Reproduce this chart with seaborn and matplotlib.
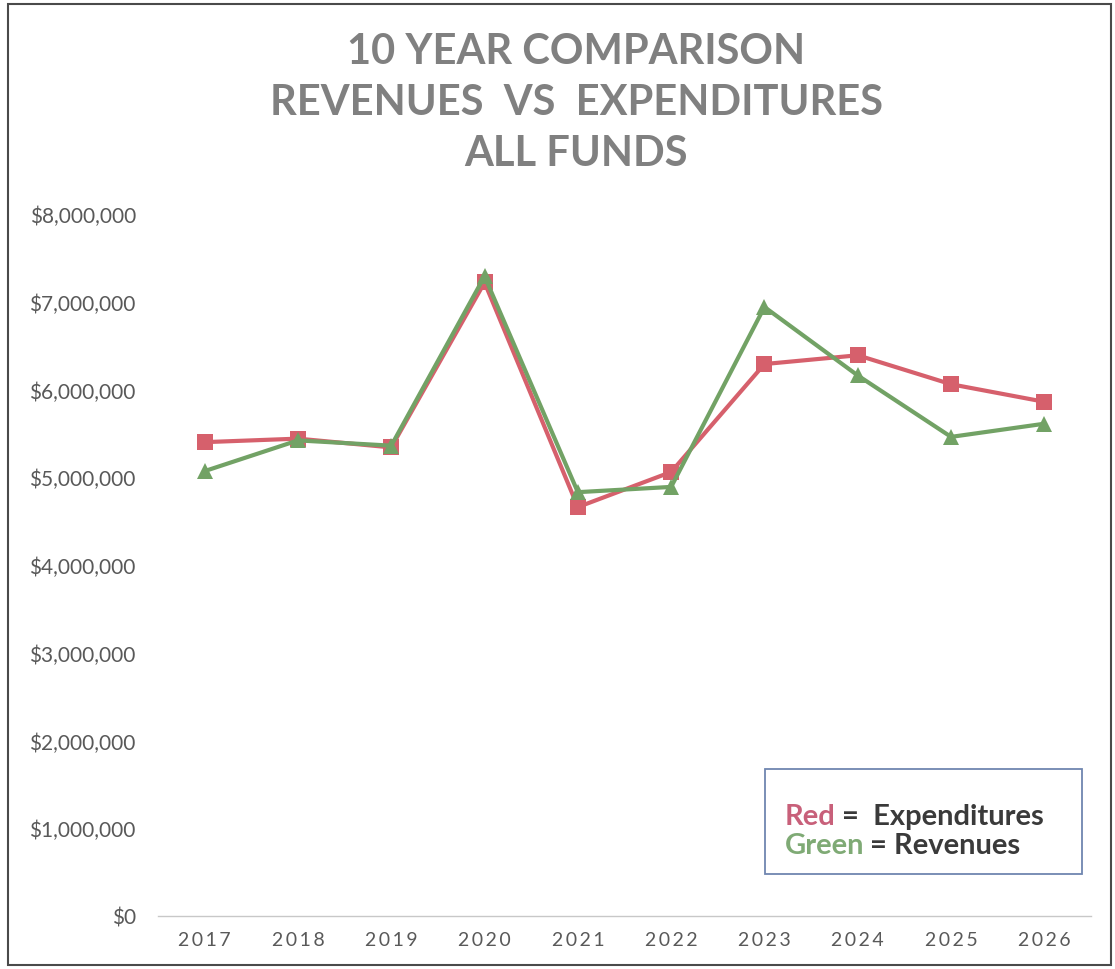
import matplotlib
matplotlib.use("Agg")
import matplotlib.pyplot as plt
from matplotlib.patches import Rectangle
from matplotlib.ticker import FuncFormatter
import seaborn as sns
import pandas as pd

# Fiscal years and totals (all funds), in dollars
years = [2017, 2018, 2019, 2020, 2021, 2022, 2023, 2024, 2025, 2026]
expenditures = [5400000, 5440000, 5340000, 7220000, 4660000,
                5060000, 6290000, 6390000, 6060000, 5860000]
revenues = [5070000, 5420000, 5360000, 7290000, 4830000,
            4890000, 6940000, 6160000, 5460000, 5610000]

title_lines = ["10 YEAR COMPARISON", "REVENUES  VS  EXPENDITURES", "ALL FUNDS"]

RED = "#D6606C"
GREEN = "#72A265"

sns.set_theme(style="white")
plt.rcParams["font.family"] = ["Lato", "DejaVu Sans"]

df = pd.DataFrame({
    "year": years * 2,
    "amount": expenditures + revenues,
    "series": ["Expenditures"] * len(years) + ["Revenues"] * len(years),
})

fig = plt.figure(figsize=(11.15, 9.7), dpi=100)
ax = fig.add_axes([158 / 1115, 1 - 917 / 970, (1091 - 158) / 1115, (917 - 215) / 970])

sns.lineplot(
    data=df, x="year", y="amount", hue="series", style="series",
    palette={"Expenditures": RED, "Revenues": GREEN},
    markers={"Expenditures": "s", "Revenues": "^"},
    dashes=False, linewidth=3.0, markersize=12, markeredgewidth=0,
    legend=False, ax=ax,
)

ax.set_xlim(years[0] - 0.5, years[-1] + 0.5)
ax.set_ylim(0, 8000000)
ax.set_xticks(years)
ax.set_xticklabels(["\u2009".join(str(y)) for y in years])
ax.set_yticks(range(0, 8000001, 1000000))
ax.yaxis.set_major_formatter(FuncFormatter(lambda v, _: f"${v:,.0f}"))
ax.set_xlabel("")
ax.set_ylabel("")

for side in ("top", "right", "left"):
    ax.spines[side].set_visible(False)
ax.spines["bottom"].set_color("#C8C8C8")
ax.spines["bottom"].set_linewidth(1.0)
ax.tick_params(axis="both", length=0, colors="#595959")
ax.tick_params(axis="y", pad=16, labelsize=15)
ax.tick_params(axis="x", pad=11, labelsize=14)
for lbl in ax.get_yticklabels() + ax.get_xticklabels():
    lbl.set_color("#595959")
ax.grid(False)

# Title block
for i, line in enumerate(title_lines):
    fig.text(0.517, 1 - (52 + 51 * i) / 970, line, ha="center", va="center",
             fontsize=30, fontweight="bold", color="#808080")

# Colour key box
ax.add_patch(Rectangle((765 / 1115, 1 - 875 / 970), (1082 - 765) / 1115, 105 / 970,
                       transform=fig.transFigure, fill=True, facecolor="white",
                       edgecolor="#6F86B0", linewidth=1.3, zorder=5))
key_rows = [("Red", "#C8607A", "=  Expenditures", 817), ("Green", "#7FAA75", "= Revenues", 846)]
for word, col, rest, ypx in key_rows:
    t = fig.text(785 / 1115, 1 - ypx / 970, word, ha="left", va="center",
                 fontsize=21, fontweight="bold", color=col, zorder=6)
    fig.canvas.draw()
    bb = t.get_window_extent()
    fig.text((bb.x1 + 6) / 1115, 1 - ypx / 970, rest, ha="left", va="center",
             fontsize=21, fontweight="bold", color="#3A3A3A", zorder=6)

# Outer frame
fig.patches.append(Rectangle((8 / 1115, 4 / 970), (1111 - 8) / 1115, (965 - 4) / 970,
                             transform=fig.transFigure, fill=False,
                             edgecolor="#4A4A4A", linewidth=1.5))

fig.savefig("out.png", dpi=100)
